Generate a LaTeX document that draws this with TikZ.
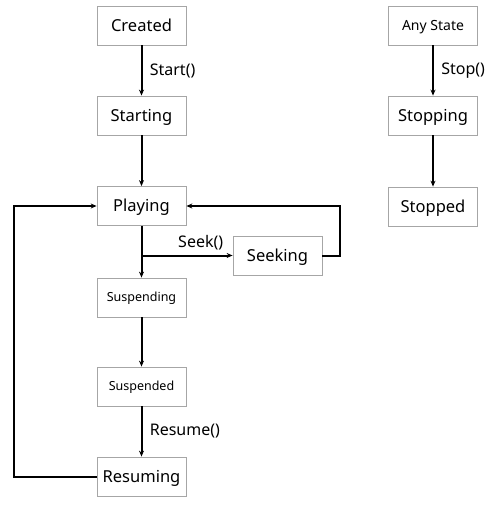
\documentclass[tikz,border=0pt]{standalone}
\usepackage{fontspec}
\setmainfont{Noto Sans}
\usepackage{tikz}
\usetikzlibrary{arrows.meta, positioning}

\tikzset{
	state/.style = {draw=gray!70, line width=0.8pt, minimum width=89pt, minimum height=39pt, inner sep=0pt, text height=11.8pt, text depth=0pt, font=\fontsize{16.5}{18}\selectfont},
	smallstate/.style = {state, text height=8.9pt, font=\fontsize{12.5}{14}\selectfont},
	trans/.style = {line width=2pt, -{Stealth[length=6pt,width=5pt]}},
	translabel/.style = {font=\fontsize{16}{18}\selectfont}
}

\begin{document}
\begin{tikzpicture}[x=1pt,y=-1pt]
		\useasboundingbox (0,0) rectangle (500,513);
		
		\node[state] (Created) at (141.5,25.5) {Created};
		\node[state] (Starting) at (141.5,115.5) {Starting};
		\node[state] (Playing) at (141.5,206) {Playing};
		\node[state] (Seeking) at (277.5,255.5) {Seeking};
		\node[smallstate] (Suspending) at (141.5,297.5) {Suspending};
		\node[smallstate] (Suspended) at (141.5,386.5) {Suspended};
		\node[state] (Resuming) at (141.5,476.5) {Resuming};
		
		\node[state, text height=10pt, font=\fontsize{14}{16}\selectfont] (AnyState) at (433,25.5) {Any State};
		\node[state] (Stopping) at (433,115.5) {Stopping};
		\node[state] (Stopped) at (433,206.5) {Stopped};
		
		\coordinate (SeekFork) at (141.5,255.5);
		
		%%%%%%%%%%%%%%%%%%%%%%%%%%%%%%
		
		\draw[trans] (Created) -- node[translabel, right=4pt] {Start()} (Starting);
		\draw[trans] (Starting) -- (Playing);
		\draw[trans] (Playing) -- (Suspending);
		\draw[trans] (SeekFork) -- node[translabel, above=1pt, pos=0.65] {Seek()} (Seeking);
		\draw[trans] (Seeking.east) -- ++(18,0) |- (Playing.east);
		\draw[trans] (Suspending) -- (Suspended);
		\draw[trans] (Suspended) -- node[translabel, right=4pt] {Resume()} (Resuming);
		\draw[trans] (Resuming.west) -- ++(-83,0) |- (Playing.west);
		
		\draw[trans] (AnyState) -- node[translabel, right=4pt] {Stop()} (Stopping);
		\draw[trans] (Stopping) -- (Stopped);
		
	\end{tikzpicture}
\end{document}
